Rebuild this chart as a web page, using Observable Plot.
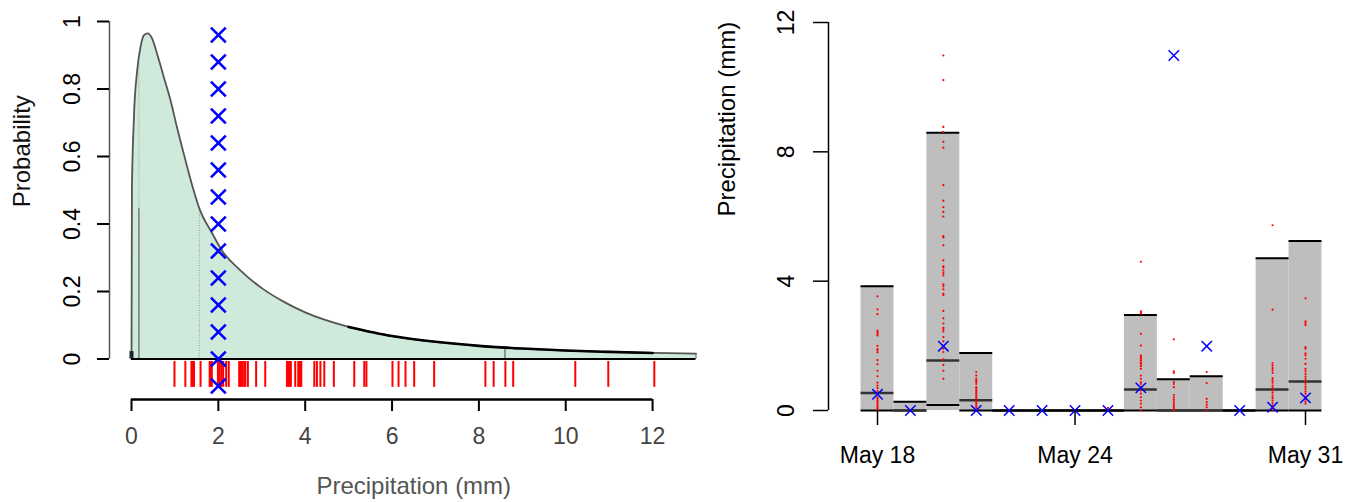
<!DOCTYPE html>
<html><head><meta charset="utf-8">
<script src="https://cdn.jsdelivr.net/npm/d3@7"></script>
<script src="https://cdn.jsdelivr.net/npm/@observablehq/plot@0.6"></script>
<style>
html,body{margin:0;padding:0;background:#fff;}
#wrap{position:relative;width:1354px;height:502px;overflow:hidden;background:#fff;}
#left,#right{position:absolute;top:0;}
#left{left:0;} #right{left:700px;}
</style></head><body>
<div id="wrap"><div id="left"></div><div id="right"></div></div>
<script>
// ---------- Left panel data: forecast distribution for one day ----------
const densityX = [0, 0.01, 0.053, 0.131, 0.207, 0.283, 0.375, 0.476, 0.59, 0.745, 0.9, 1.05, 1.2, 1.43, 1.56, 1.86, 2.09, 2.47, 3.0, 3.5, 4.0, 5.0, 6.0, 7.0, 8.0, 9.0, 10.0, 11.0, 12.0, 13.0];
const densityY = [0, 0.5, 0.707, 0.855, 0.924, 0.959, 0.965, 0.949, 0.904, 0.835, 0.766, 0.685, 0.61, 0.5, 0.447, 0.372, 0.32, 0.267, 0.21, 0.17, 0.138, 0.095, 0.068, 0.051, 0.039, 0.031, 0.025, 0.021, 0.018, 0.016];
const pointMassZero = 0.022;
const quantileX = [0.17, 1.56, 8.6];
const quantileSolidTop = [0.445, 0, 0.032];
const quantileDottedTop = [0.88, 0.447, 0];
const rugValues = [0.99, 1.24, 1.38, 1.41, 1.44, 1.59, 1.80, 1.83, 1.85, 1.99, 2.03, 2.07, 2.11, 2.18, 2.24, 2.48, 2.52, 2.56, 2.60, 2.62, 2.68, 2.87, 3.08, 3.58, 3.61, 3.64, 3.67, 3.77, 3.84, 3.88, 3.91, 4.21, 4.27, 4.35, 4.44, 4.66, 5.13, 5.36, 5.41, 6.01, 6.15, 6.31, 6.51, 6.97, 8.15, 8.34, 8.61, 8.79, 10.22, 10.98, 12.04];
const observedValue = 2;
const observedMarkY = [0.96, 0.88, 0.80, 0.72, 0.64, 0.56, 0.48, 0.40, 0.32, 0.24, 0.16, 0.08, 0, -0.08];
const leftXTicks = [0, 2, 4, 6, 8, 10, 12];
const leftYTicks = [0, 0.2, 0.4, 0.6, 0.8, 1];
const leftXTitle = "Precipitation (mm)";
const leftYTitle = "Probability";

// ---------- Right panel data: daily forecasts ----------
const days = [18, 19, 20, 21, 22, 23, 24, 25, 26, 27, 28, 29, 30, 31];
const barTop = [3.84, 0.27, 8.59, 1.78, 0, 0, 0, 0, 2.95, 0.97, 1.06, 0, 4.71, 5.24];
const barMid = [0.54, 0, 1.55, 0.32, 0, 0, 0, 0, 0.65, 0, 0, 0, 0.65, 0.90];
const barLow = [0, 0, 0.17, 0, 0, 0, 0, 0, 0, 0, 0, 0, 0, 0];
const observed = [0.5, 0, 1.99, 0, 0, 0, 0, 0, 0.70, 10.98, 1.99, 0, 0.1, 0.39];
const ensMay18 = [3.53, 3.13, 2.98, 2.47, 2.42, 2.37, 2.32, 2.0, 1.91, 1.86, 1.80, 1.56, 1.43, 1.23, 1.06, 0.86, 0.77, 0.69, 0.60, 0.52, 0.41, 0.36, 0.31, 0.26, 0.21, 0.15, 0.10, 0.05, 0];
const ensMay19 = [0];
const ensMay20 = [10.98, 10.22, 8.77, 8.61, 8.31, 8.13, 6.97, 6.49, 6.29, 6.14, 6.0, 5.39, 5.35, 5.11, 4.64, 4.46, 4.42, 4.33, 4.25, 4.18, 3.90, 3.84, 3.75, 3.61, 3.57, 3.08, 2.85, 2.69, 2.56, 2.51, 2.45, 2.27, 2.14, 2.0, 1.91, 1.81, 1.58, 1.41, 1.23, 0.98];
const ensMay21 = [1.19, 1.08, 0.98, 0.93, 0.88, 0.82, 0.72, 0.67, 0.62, 0.57, 0.52, 0.46, 0.41, 0.36, 0.31, 0.26, 0.21, 0.15, 0.10, 0.05, 0];
const ensMay22 = [0];
const ensMay23 = [0];
const ensMay24 = [0];
const ensMay25 = [0, 0.08];
const ensMay26 = [4.60, 3.07, 3.02, 2.99, 2.37, 2.01, 1.70, 1.65, 1.60, 1.55, 1.49, 1.44, 1.37, 1.29, 1.08, 0.98, 0.88, 0.82, 0.72, 0.62, 0.52, 0.41, 0.31, 0.21, 0.10, 0];
const ensMay27 = [2.20, 1.21, 1.16, 0.88, 0.82, 0.72, 0.48, 0.41, 0.34, 0.28, 0.21, 0.15, 0.10, 0.05, 0];
const ensMay28 = [1.19, 0.85, 0.36, 0.26, 0.18, 0.10, 0];
const ensMay29 = [0];
const ensMay30 = [5.73, 3.12, 1.46, 1.39, 1.31, 1.24, 1.16, 1.0, 0.93, 0.86, 0.77, 0.70, 0.62, 0.55, 0.46, 0.38, 0.31, 0.23, 0.15, 0.08, 0];
const ensMay31 = [3.47, 2.76, 2.71, 2.64, 1.96, 1.91, 1.77, 1.71, 1.60, 1.44, 1.29, 1.22, 1.13, 1.05, 0.98, 0.90, 0.82, 0.74, 0.67, 0.59, 0.52, 0.43, 0.36, 0.28, 0.21];
const rightXTicks = [18, 24, 31];
const rightYTicks = [0, 4, 8, 12];
const rightYTitle = "Precipitation (mm)";

// ---------- build tables ----------
const density = densityX.map((x, i) => ({x, y: densityY[i]}));
const quantiles = quantileX.map((x, i) => ({x, solid: quantileSolidTop[i], dotted: quantileDottedTop[i]}));
const bars = days.map((day, i) => ({day, top: barTop[i], mid: barMid[i], low: barLow[i], obs: observed[i]}));
const ensLists = [ensMay18, ensMay19, ensMay20, ensMay21, ensMay22, ensMay23, ensMay24, ensMay25, ensMay26, ensMay27, ensMay28, ensMay29, ensMay30, ensMay31];
const ensemble = ensLists.flatMap((list, i) => list.map(v => ({day: days[i], v})));

const font = "'Liberation Sans', Arial, Helvetica, sans-serif";

const left = Plot.plot({
  width: 700, height: 502,
  marginLeft: 131, marginRight: 4.5, marginTop: 21, marginBottom: 143.5,
  x: {domain: [0, 13], label: null},
  y: {domain: [0, 1], label: null},
  style: {fontFamily: font, fontSize: "23px", background: "white", overflow: "visible"},
  marks: [
    Plot.areaY(density, {x: "x", y: "y", fill: "#cfeadb", curve: "monotone-x"}),
    Plot.ruleX(quantiles.filter(d => d.solid > 0), {x: "x", y1: 0, y2: "solid", stroke: "#777", strokeWidth: 1.5}),
    Plot.ruleX(quantiles.filter(d => d.dotted > 0), {x: "x", y1: d => d.solid, y2: "dotted", stroke: "#999", strokeWidth: 1, strokeDasharray: "1,1.5"}),
    Plot.line(density, {x: "x", y: "y", stroke: "#555", strokeWidth: 1.8, curve: "monotone-x"}),
    Plot.line(density.filter(d => d.x >= 5 && d.x <= 12), {x: "x", y: "y", stroke: "#000", strokeWidth: 2.6, curve: "monotone-x"}),
    Plot.ruleX([13], {y1: 0, y2: densityY[densityY.length - 1], stroke: "#555", strokeWidth: 1}),
    Plot.ruleY([0], {x1: 0, x2: 13, stroke: "#000", strokeWidth: 2}),
    Plot.ruleX([0], {y1: 0, y2: pointMassZero, stroke: "#223", strokeWidth: 4}),
    Plot.ruleX(rugValues, {y1: -0.0074, y2: -0.084, stroke: "red", strokeWidth: 2}),
    Plot.dot(observedMarkY, {x: () => observedValue, y: d => d, symbol: "times", r: 6.8, stroke: "blue", strokeWidth: 2.6}),
    Plot.ruleY([0], {x1: 0, x2: 12, dy: 40.5, stroke: "#000", strokeWidth: 2.5}),
    Plot.axisX({ticks: leftXTicks, tickSize: 12, dy: 40.5, tickPadding: 16, strokeWidth: 2, fill: "#444", label: null}),
    Plot.ruleX([0], {y1: 0, y2: 1, dx: -22, stroke: "#555", strokeWidth: 1.5}),
    Plot.axisY({ticks: leftYTicks, tickSize: 12, dx: -22, tickRotate: -90, tickPadding: 18, tickFormat: d => String(d), strokeWidth: 2, label: null}),
    Plot.text([leftXTitle], {frameAnchor: "bottom", dy: 134.5, fill: "#555", fontSize: 24}),
    Plot.text([leftYTitle], {frameAnchor: "left", dx: -109, dy: 17, rotate: -90, fill: "#111", fontSize: 24})
  ]
});
document.getElementById("left").appendChild(left);

const right = Plot.plot({
  width: 654, height: 502,
  marginLeft: 177, marginRight: 49, marginTop: 22, marginBottom: 92,
  x: {domain: [18, 31], label: null},
  y: {domain: [0, 12], label: null},
  style: {fontFamily: font, fontSize: "23px", background: "white", overflow: "visible"},
  marks: [
    Plot.rectY(bars, {x1: d => d.day - 0.5, x2: d => d.day + 0.5, y1: 0, y2: "top", fill: "#bebebe"}),
    Plot.ruleY(bars, {y: "low", x1: d => d.day - 0.5, x2: d => d.day + 0.5, stroke: "#000", strokeWidth: 2}),
    Plot.ruleY(bars, {y: "mid", x1: d => d.day - 0.5, x2: d => d.day + 0.5, stroke: "#333", strokeWidth: 2.5}),
    Plot.ruleY(bars, {y: "top", x1: d => d.day - 0.5, x2: d => d.day + 0.5, stroke: "#000", strokeWidth: 2}),
    Plot.dot(ensemble, {x: "day", y: "v", r: 1.1, fill: "red", stroke: null}),
    Plot.dot(bars, {x: "day", y: "obs", symbol: "times", r: 4.8, stroke: "blue", strokeWidth: 1.5}),
    Plot.ruleX([18], {y1: 0, y2: 12, dx: -49, stroke: "#000", strokeWidth: 1.5}),
    Plot.axisY({ticks: rightYTicks, tickSize: 15, dx: -49, tickRotate: -90, tickPadding: 20, strokeWidth: 1.5, label: null}),
    Plot.axisX({ticks: rightXTicks, tickFormat: d => `May ${d}`, tickSize: 15, tickPadding: 21, strokeWidth: 1.5, label: null}),
    Plot.text([rightYTitle], {frameAnchor: "left", dx: -150, rotate: -90, fill: "#000", fontSize: 24})
  ]
});
document.getElementById("right").appendChild(right);
</script></body></html>
